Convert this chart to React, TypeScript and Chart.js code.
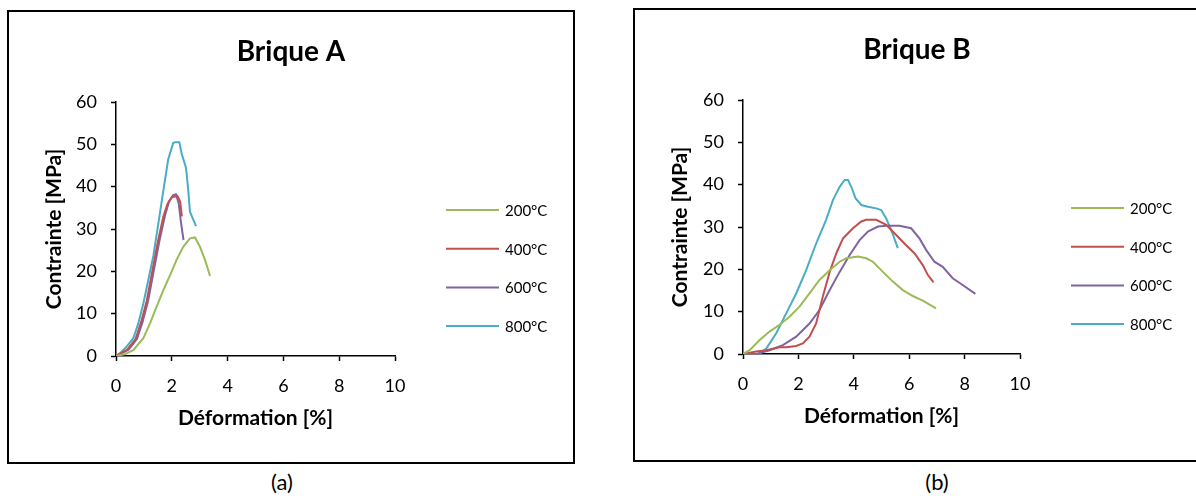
import { useEffect, useRef } from "react";
import { Chart, registerables } from "chart.js";

Chart.register(...registerables);

const SERIES_LABELS = ["200°C", "400°C", "600°C", "800°C"];
const SERIES_COLORS = ["#9BBB59", "#C0504D", "#8064A2", "#4BACC6"];
const X_TICKS = [0, 2, 4, 6, 8, 10];
const Y_TICKS = [0, 10, 20, 30, 40, 50, 60];
const X_TITLE = "Déformation [%]";
const Y_TITLE = "Contrainte [MPa]";

// Brique A
const A_200_X = [0, 0.3, 0.62, 0.98, 1.22, 1.46, 1.7, 1.94, 2.17, 2.41, 2.65, 2.83, 3.01, 3.19, 3.37];
const A_200_Y = [0, 0.4, 1.4, 4.2, 7.7, 11.7, 15.6, 19.1, 22.7, 25.8, 27.8, 28, 25.8, 22.7, 18.9];
const A_400_X = [0, 0.4, 0.7, 0.9, 1.1, 1.3, 1.5, 1.7, 1.85, 2.0, 2.2, 2.3, 2.36];
const A_400_Y = [0, 1.5, 4, 8, 13, 20, 27, 33, 36, 37.5, 37.8, 36.5, 33];
const A_600_X = [0, 0.45, 0.75, 0.95, 1.15, 1.35, 1.55, 1.75, 1.9, 2.05, 2.15, 2.25, 2.32, 2.42];
const A_600_Y = [0, 1.5, 4, 8, 13, 20, 27, 33, 36.5, 38, 38.2, 36, 32, 27.4];
const A_800_X = [0, 0.14, 0.38, 0.62, 0.8, 0.98, 1.16, 1.34, 1.52, 1.7, 1.87, 2.05, 2.11, 2.27, 2.35, 2.51, 2.59, 2.65, 2.87];
const A_800_Y = [0, 0.6, 2.2, 4.2, 7.7, 12.4, 18, 23.7, 31.4, 39.2, 46.4, 50.3, 50.5, 50.5, 47.9, 44.4, 39.2, 34.1, 30.7];

// Brique B
const B_200_X = [0, 0.24, 0.6, 0.96, 1.32, 1.68, 2.04, 2.4, 2.76, 3.13, 3.49, 3.73, 4.15, 4.45, 4.69, 5.05, 5.41, 5.77, 6.13, 6.49, 6.97];
const B_200_Y = [0, 0.9, 3.3, 5.3, 6.9, 8.8, 11.2, 14.3, 17.5, 19.8, 21.8, 22.6, 23, 22.6, 21.8, 19.4, 17.1, 15.1, 13.7, 12.6, 10.8];
const B_400_X = [0, 0.48, 0.84, 1.32, 1.56, 1.92, 2.16, 2.4, 2.64, 2.88, 3.13, 3.37, 3.61, 3.97, 4.27, 4.45, 4.81, 5.17, 5.53, 5.89, 6.19, 6.49, 6.67, 6.88];
const B_400_Y = [0, 0.6, 0.9, 1.6, 1.6, 1.9, 2.5, 4.1, 7.2, 13.5, 19.4, 23.8, 27.3, 29.7, 31.3, 31.7, 31.7, 30.5, 28.1, 25.7, 23.8, 21, 18.7, 16.9];
const B_600_X = [0, 0.48, 0.96, 1.44, 1.92, 2.4, 2.76, 3.13, 3.49, 3.85, 4.21, 4.51, 4.87, 5.17, 5.65, 6.07, 6.37, 6.61, 6.91, 7.21, 7.57, 7.93, 8.39];
const B_600_Y = [0, 0, 0.9, 2.1, 4.1, 7.2, 10.4, 15.1, 19.4, 23.4, 26.9, 28.9, 30.1, 30.3, 30.3, 29.7, 27.3, 24.6, 21.8, 20.6, 17.9, 16.3, 14.2];
const B_800_X = [0, 0.6, 0.84, 1.2, 1.56, 1.92, 2.28, 2.64, 3.0, 3.25, 3.49, 3.67, 3.79, 3.91, 4.06, 4.27, 4.51, 4.81, 4.99, 5.17, 5.35, 5.59];
const B_800_Y = [0, 0, 1.3, 4.9, 9.6, 14.3, 19.8, 26.1, 31.7, 36.4, 39.5, 41.1, 41.1, 39.5, 36.8, 35.2, 34.8, 34.4, 34, 32, 29.3, 25];

const FONT = "Lato, 'Open Sans', sans-serif";
const CANVAS_W = 564;
const CANVAS_H = 450;

type PanelProps = {
  title: string;
  xs: number[][];
  ys: number[][];
  yAxisWidth: number;
  rightPad: number;
};

function Panel({ title, xs, ys, yAxisWidth, rightPad }: PanelProps) {
  const ref = useRef<HTMLCanvasElement | null>(null);
  useEffect(() => {
    if (!ref.current) return;
    const datasets = SERIES_LABELS.map((label, i) => ({
      label,
      data: xs[i].map((x, j) => ({ x, y: ys[i][j] })),
      borderColor: SERIES_COLORS[i],
      backgroundColor: SERIES_COLORS[i],
      borderWidth: 2,
      pointRadius: 0,
      showLine: true,
      tension: 0,
      fill: false,
    }));
    const legendPlugin = {
      id: "sideLegend",
      afterLayout(chart: any) {
        // centre the title over the whole panel, as in the source figure
        const tb = chart.titleBlock;
        if (tb) {
          tb.left = 0;
          tb.right = chart.width;
          tb.width = chart.width;
        }
      },
      afterDraw(chart: any) {
        const { ctx, chartArea } = chart;
        ctx.save();
        ctx.font = `15px ${FONT}`;
        ctx.textBaseline = "middle";
        ctx.textAlign = "left";
        SERIES_LABELS.forEach((label, i) => {
          const y = chartArea.top + 108 + i * 38.7;
          const x0 = chartArea.right + 51;
          ctx.strokeStyle = SERIES_COLORS[i];
          ctx.lineWidth = 2;
          ctx.beginPath();
          ctx.moveTo(x0, y);
          ctx.lineTo(x0 + 53, y);
          ctx.stroke();
          ctx.fillStyle = "#000";
          ctx.fillText(label, x0 + 59, y + 1);
        });
        ctx.restore();
      },
    };
    const chart = new Chart(ref.current, {
      type: "scatter",
      data: { datasets },
      plugins: [legendPlugin],
      options: {
        animation: false,
        responsive: false,
        devicePixelRatio: 1,
        layout: { padding: { left: 0, right: rightPad, top: 0, bottom: 0 } },
        plugins: {
          legend: { display: false },
          tooltip: { enabled: false },
          title: {
            display: true,
            text: title,
            color: "#000",
            font: { family: FONT, size: 28, weight: "bold" },
            padding: { top: 23, bottom: 33.4 },
          },
        },
        scales: {
          x: {
            type: "linear",
            min: 0,
            max: 10,
            afterFit(scale: any) {
              scale.height = 106;
            },
            afterBuildTicks(scale: any) {
              scale.ticks = X_TICKS.map((v) => ({ value: v }));
            },
            ticks: {
              color: "#000",
              font: { family: FONT, size: 18 },
              padding: 14,
              maxRotation: 0,
            },
            grid: { drawOnChartArea: false, drawTicks: true, tickLength: 5, color: "#000", tickWidth: 1.5 },
            border: { color: "#000", width: 1.5 },
            title: {
              display: true,
              text: X_TITLE,
              color: "#000",
              font: { family: FONT, size: 21, weight: "bold" },
              padding: { top: 0, bottom: 31 },
            },
          },
          y: {
            type: "linear",
            min: 0,
            max: 60,
            afterFit(scale: any) {
              scale.width = yAxisWidth;
            },
            afterBuildTicks(scale: any) {
              scale.ticks = Y_TICKS.map((v) => ({ value: v }));
            },
            ticks: {
              color: "#000",
              font: { family: FONT, size: 18 },
              padding: 14,
            },
            grid: { drawOnChartArea: false, drawTicks: true, tickLength: 5, color: "#000", tickWidth: 1.5 },
            border: { color: "#000", width: 1.5 },
            title: {
              display: true,
              text: Y_TITLE,
              color: "#000",
              font: { family: FONT, size: 21, weight: "bold" },
              padding: { top: 33, bottom: 0 },
            },
          },
        },
      } as any,
    });
    return () => chart.destroy();
  }, []);
  return (
    <canvas
      ref={ref}
      width={CANVAS_W}
      height={CANVAS_H}
      style={{ position: "absolute", left: 0, top: 0 }}
    />
  );
}

const frameStyle = (left: number, top: number): any => ({
  position: "absolute",
  left,
  top,
  width: 568,
  height: 454,
  border: "2px solid #000",
  boxSizing: "border-box",
  overflow: "hidden",
});

const captionStyle = (cx: number): any => ({
  position: "absolute",
  left: cx - 50,
  top: 468,
  width: 100,
  textAlign: "center",
  fontFamily: FONT,
  fontSize: 22,
  lineHeight: "28px",
  color: "#000",
});

export default function App() {
  return (
    <div
      style={{
        position: "absolute",
        left: 0,
        top: 0,
        width: 1196,
        height: 496,
        overflow: "hidden",
        background: "#fff",
      }}
    >
      <div style={frameStyle(7, 10)}>
        <Panel
          title="Brique A"
          xs={[A_200_X, A_400_X, A_600_X, A_800_X]}
          ys={[A_200_Y, A_400_Y, A_600_Y, A_800_Y]}
          yAxisWidth={107}
          rightPad={178}
        />
      </div>
      <div style={frameStyle(633, 8)}>
        <Panel
          title="Brique B"
          xs={[B_200_X, B_400_X, B_600_X, B_800_X]}
          ys={[B_200_Y, B_400_Y, B_600_Y, B_800_Y]}
          yAxisWidth={108}
          rightPad={179}
        />
      </div>
      <div style={captionStyle(282)}>(a)</div>
      <div style={captionStyle(937)}>(b)</div>
    </div>
  );
}
